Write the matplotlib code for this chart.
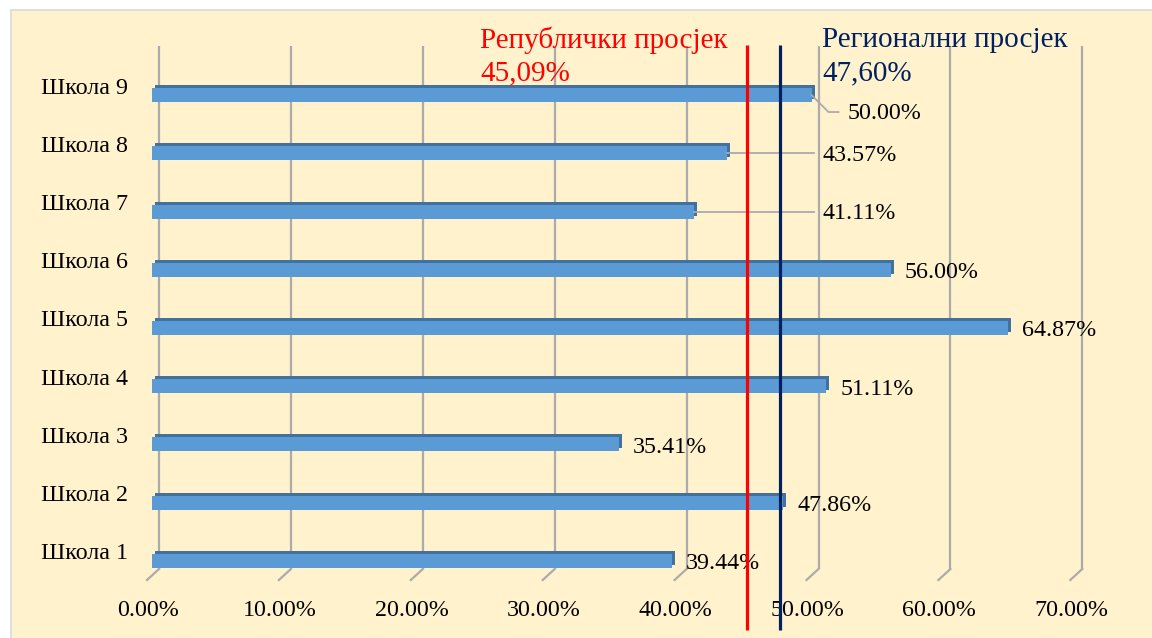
import matplotlib.pyplot as plt
import matplotlib.transforms as mtransforms
from matplotlib.patches import Rectangle

plt.rcParams['font.family'] = ['Liberation Serif', 'DejaVu Serif']

schools = ['Школа 1', 'Школа 2', 'Школа 3', 'Школа 4', 'Школа 5',
           'Школа 6', 'Школа 7', 'Школа 8', 'Школа 9']
scores = [39.44, 47.86, 35.41, 51.11, 64.87, 56.00, 41.11, 43.57, 50.00]
republic_avg = 45.09
regional_avg = 47.60
xticks = [0, 10, 20, 30, 40, 50, 60, 70]

W, H = 1152, 638
fig = plt.figure(figsize=(W / 100, H / 100), dpi=100)
fig.patch.set_facecolor('white')

# cream panel with thin grey border
fig.patches.append(Rectangle((11 / W, -0.01), 1.0, 1 - 10 / H + 0.01,
                             transform=fig.transFigure, facecolor='#FFF2CC',
                             edgecolor='#D9D9D9', linewidth=1.2, zorder=-10))

# axes in the "front plane": x=0 -> 152px, x=70 -> 1075px
left_px, right_px = 152, 1075.3
top_px, bot_px = 65.9, 590.1
ax = fig.add_axes([left_px / W, 1 - bot_px / H,
                   (right_px - left_px) / W, (bot_px - top_px) / H])
ax.patch.set_visible(False)
for s in ax.spines.values():
    s.set_visible(False)
ax.set_xlim(0, 70)
ax.set_ylim(0.5, 9.5)
ax.set_xticks([])
ax.set_yticks([])

fs = 17.3
gridc = '#ABABAB'
blend = mtransforms.blended_transform_factory(ax.transData, ax.transAxes)
ypx = lambda p: (bot_px - p) / (bot_px - top_px)

# back-wall gridlines with small floor tick going to the front
for t in xticks:
    tr = mtransforms.offset_copy(blend, fig=fig, x=7, y=0, units='dots')
    ax.plot([t, t], [ypx(46), ypx(569)], color=gridc, lw=1.6, transform=tr,
            solid_capstyle='butt', zorder=1, clip_on=False)
    d = 1 / 13.19
    ax.plot([t, t - 12 * d], [ypx(569), ypx(580)], color=gridc, lw=1.6,
            transform=tr, zorder=1, clip_on=False)
    ax.annotate(f'{t:.2f}%', xy=(t, 0), xycoords=('data', 'axes fraction'),
                xytext=(-4, -20), textcoords='offset pixels',
                ha='center', va='center', fontsize=fs, color='black')

y = list(range(1, len(schools) + 1))
bh = 14 / 58.25

# 3D look: darker copy shifted up/right behind the front face
back = ax.barh(y, scores, height=bh, color='#41719C', zorder=2)
shift = mtransforms.offset_copy(ax.transData, fig=fig, x=3, y=3, units='dots')
for p in back:
    p.set_transform(shift)
ax.barh(y, scores, height=bh, color='#5B9BD5', zorder=3)

# school labels
for yi, name in zip(y, schools):
    ax.annotate(name, xy=(0, yi), xytext=(-24, 7), textcoords='offset pixels',
                ha='right', va='center', fontsize=fs)

# data labels
px = 1 / 13.19
for yi, v in zip(y, scores):
    lab = f'{v:.2f}%'
    if yi == 9:
        ax.plot([v, v + 17 * px, v + 27 * px], [yi, yi - 17 / 58.25, yi - 17 / 58.25],
                color=gridc, lw=1.3, zorder=4)
        ax.annotate(lab, xy=(v, yi), xytext=(36, -18), textcoords='offset pixels',
                    ha='left', va='center', fontsize=fs)
    elif yi in (7, 8):
        ax.plot([v, 50.2], [yi, yi], color=gridc, lw=1.3, zorder=4)
        ax.annotate(lab, xy=(50.8, yi), xytext=(0, -2), textcoords='offset pixels',
                    ha='left', va='center', fontsize=fs)
    else:
        ax.annotate(lab, xy=(v, yi), xytext=(14, -3), textcoords='offset pixels',
                    ha='left', va='center', fontsize=fs)

# average lines
ax.plot([republic_avg, republic_avg], [ypx(45), ypx(630)], color='#FF0000',
        lw=2.3, transform=blend, clip_on=False, zorder=5, solid_capstyle='butt')
ax.plot([regional_avg, regional_avg], [ypx(45), ypx(630)], color='#002060',
        lw=2.3, transform=blend, clip_on=False, zorder=5, solid_capstyle='butt')

fig.text(480 / W, 1 - 40 / H, 'Републички просјек', color='#FF0000',
         fontsize=21, ha='left', va='center')
fig.text(480 / W, 1 - 73 / H, f'{republic_avg:.2f}%'.replace('.', ','),
         color='#FF0000', fontsize=21, ha='left', va='center')
fig.text(822 / W, 1 - 40 / H, 'Регионални просјек', color='#002060',
         fontsize=21, ha='left', va='center')
fig.text(822 / W, 1 - 73 / H, f'{regional_avg:.2f}%'.replace('.', ','),
         color='#002060', fontsize=21, ha='left', va='center')

fig.savefig('out.png', dpi=100, facecolor=fig.get_facecolor())
